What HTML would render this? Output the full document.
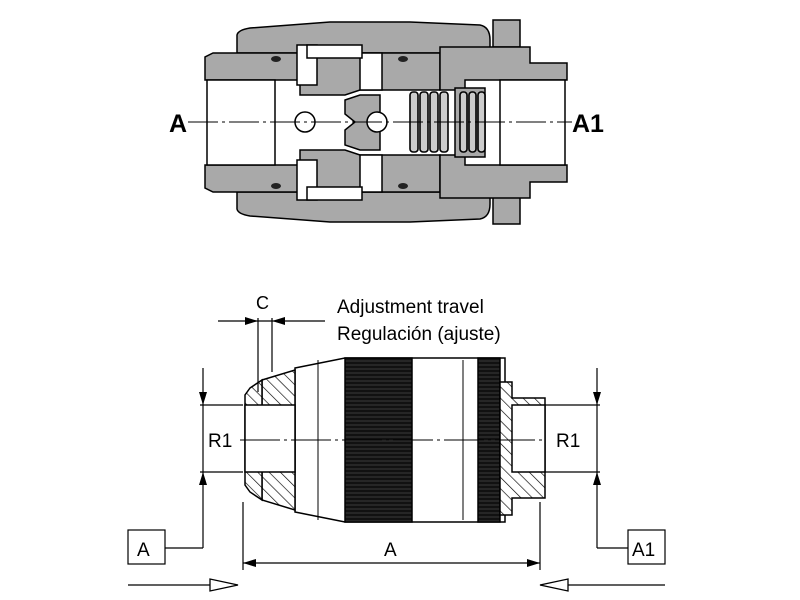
<!DOCTYPE html>
<html><head><meta charset="utf-8"><style>
html,body{margin:0;padding:0;background:#fff;}
svg{display:block;}
text{font-family:"Liberation Sans",sans-serif;fill:#000;}
</style></head><body>
<svg width="800" height="600" viewBox="0 0 800 600" xmlns="http://www.w3.org/2000/svg">
<defs>
<pattern id="h" width="8" height="8" patternUnits="userSpaceOnUse" patternTransform="rotate(-45)">
<rect width="8" height="8" fill="#fff"/><line x1="0" y1="0" x2="0" y2="8" stroke="#000" stroke-width="1.3"/></pattern>
<pattern id="k" width="3" height="4" patternUnits="userSpaceOnUse">
<rect width="3" height="4" fill="#111"/><line x1="0" y1="1" x2="3" y2="1" stroke="#666" stroke-width="0.5"/></pattern>
</defs>
<g stroke="#000" stroke-width="1.5" fill="#a9a9a9">
<!-- outer housing -->
<path d="M237,53 L237,35 Q238,30 250,28 L330,22 L410,22 L480,25 Q490,27 490,40 L490,53 Z"/>
<path d="M237,192 L237,209 Q238,214 250,216 L330,222 L410,222 L480,219 Q490,217 490,204 L490,192 Z"/>
<rect x="493" y="20" width="27" height="27"/>
<rect x="493" y="197" width="27" height="27"/>
<!-- left fitting -->
<path d="M205,80 L205,57 L213,53 L300,53 L300,80 Z"/>
<path d="M205,165 L205,188 L213,192 L300,192 L300,165 Z"/>
<!-- middle body -->
<path d="M300,53 L440,53 L440,90 L360,90 L345,95 L300,95 Z"/>
<path d="M300,192 L440,192 L440,155 L360,155 L345,150 L300,150 Z"/>
<!-- right body -->
<path d="M440,47 L530,47 L530,63 L567,63 L567,80 L465,80 L465,90 L440,90 Z"/>
<path d="M440,198 L530,198 L530,182 L567,182 L567,165 L465,165 L465,155 L440,155 Z"/>
<!-- poppet -->
<path d="M345,100 L360,95 L380,95 L380,150 L360,150 L345,145 L345,130 L355,122 L345,114 Z"/>
<!-- ring seat -->
<rect x="455" y="88" width="30" height="69"/>
</g>
<g fill="#fff" stroke="#000" stroke-width="1.5">
<rect x="207" y="80" width="68" height="85"/>
<rect x="297" y="45" width="20" height="40"/>
<rect x="297" y="160" width="20" height="40"/>
<rect x="360" y="53" width="22" height="37"/>
<rect x="360" y="155" width="22" height="37"/>
<rect x="307" y="45" width="55" height="13"/>
<rect x="307" y="187" width="55" height="13"/>
<rect x="500" y="80" width="65" height="85"/>
<circle cx="305" cy="122" r="10"/>
<circle cx="377" cy="122" r="10"/>
</g>
<!-- o-rings -->
<g fill="#222"><ellipse cx="276" cy="59" rx="5" ry="3"/><ellipse cx="276" cy="186" rx="5" ry="3"/><ellipse cx="403" cy="59" rx="5" ry="3"/><ellipse cx="403" cy="186" rx="5" ry="3"/></g>
<!-- spring -->
<g stroke="#000" stroke-width="1.6" fill="#ccc">
<rect x="410" y="92" width="8" height="60" rx="3"/><rect x="420" y="92" width="8" height="60" rx="3"/><rect x="430" y="92" width="8" height="60" rx="3"/><rect x="440" y="92" width="8" height="60" rx="3"/><rect x="460" y="92" width="7" height="60" rx="3"/><rect x="469" y="92" width="7" height="60" rx="3"/><rect x="478" y="92" width="7" height="60" rx="3"/>
</g>
<line x1="188" y1="122" x2="572" y2="122" stroke="#000" stroke-width="1" stroke-dasharray="30,4,3,4"/>
<text x="169" y="132" font-size="25" font-weight="bold">A</text>
<text x="572" y="132" font-size="25" font-weight="bold">A1</text>

<!-- bottom drawing -->
<g stroke="#000" stroke-width="1.5">
<path d="M295,368 L345,358 L505,358 L505,522 L345,522 L295,512 Z" fill="#fff"/>
<path d="M262,380 L295,370 L295,510 L262,500 Z" fill="url(#h)"/>
<path d="M250,388 L262,380 L262,500 L250,492 L245,485 L245,395 Z" fill="url(#h)"/>
<rect x="245" y="405" width="50" height="67" fill="#fff"/>
<rect x="345" y="358" width="67" height="164" fill="url(#k)"/>
<rect x="478" y="358" width="22" height="164" fill="url(#k)"/>
<path d="M500,382 L512,382 L512,398 L545,398 L545,498 L512,498 L512,515 L500,515 Z" fill="url(#h)"/>
<rect x="512" y="405" width="33" height="67" fill="#fff"/>
<line x1="318" y1="360" x2="318" y2="520" stroke-width="1"/>
<line x1="463" y1="360" x2="463" y2="520" stroke-width="1"/>
</g>
<line x1="240" y1="440" x2="545" y2="440" stroke="#000" stroke-width="1" stroke-dasharray="40,4,3,4"/>
<g stroke="#000" stroke-width="1.2" fill="none">
<line x1="200" y1="405" x2="243" y2="405"/><line x1="200" y1="472" x2="243" y2="472"/>
<line x1="203" y1="368" x2="203" y2="405"/><line x1="203" y1="472" x2="203" y2="548"/><line x1="203" y1="548" x2="165" y2="548"/>
<line x1="203" y1="405" x2="203" y2="472"/>
<line x1="545" y1="405" x2="600" y2="405"/><line x1="545" y1="472" x2="600" y2="472"/>
<line x1="597" y1="368" x2="597" y2="548"/><line x1="597" y1="548" x2="628" y2="548"/>
<line x1="243" y1="502" x2="243" y2="570"/><line x1="540" y1="502" x2="540" y2="570"/>
<line x1="243" y1="563" x2="540" y2="563"/>
<line x1="258" y1="318" x2="258" y2="392"/><line x1="272" y1="318" x2="272" y2="372"/>
<line x1="218" y1="321" x2="325" y2="321"/>
<rect x="128" y="530" width="37" height="34"/>
<rect x="628" y="530" width="37" height="34"/>
<line x1="128" y1="585" x2="210" y2="585"/>
<line x1="565" y1="585" x2="665" y2="585"/>
</g>
<g fill="#000">
<polygon points="203,405 199,392 207,392"/><polygon points="203,472 199,485 207,485"/>
<polygon points="597,405 593,392 601,392"/><polygon points="597,472 593,485 601,485"/>
<polygon points="243,563 256,559 256,567"/><polygon points="540,563 527,559 527,567"/>
<polygon points="258,321 245,317 245,325"/><polygon points="272,321 285,317 285,325"/>
</g>
<polygon points="238,585 210,579 210,591" fill="#fff" stroke="#000" stroke-width="1.3"/>
<polygon points="540,585 568,579 568,591" fill="#fff" stroke="#000" stroke-width="1.3"/>
<text x="208" y="447" font-size="19">R1</text>
<text x="556" y="447" font-size="19">R1</text>
<text x="384" y="556" font-size="19">A</text>
<text x="137" y="556" font-size="19">A</text>
<text x="632" y="556" font-size="19">A1</text>
<text x="256" y="309" font-size="18">C</text>
<text x="337" y="313" font-size="19">Adjustment travel</text>
<text x="337" y="340" font-size="19">Regulación (ajuste)</text>
</svg>
</body></html>
